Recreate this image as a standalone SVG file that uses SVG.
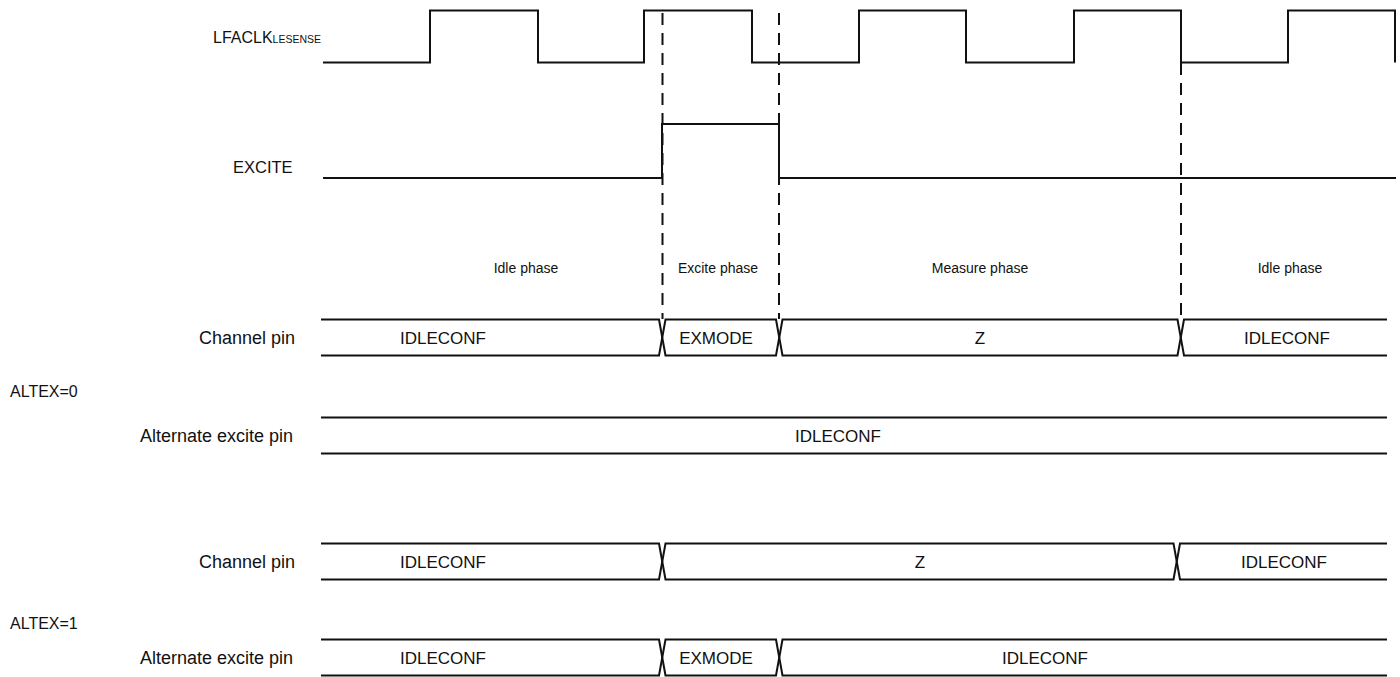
<svg xmlns="http://www.w3.org/2000/svg" width="1400" height="677" viewBox="0 0 1400 677">
<style>
text{font-family:"Liberation Sans",Arial,sans-serif;fill:#111}
.lbl{font-size:18px;text-anchor:end}
.bus{font-size:17px;text-anchor:middle}
.ph{font-size:14px;text-anchor:middle}
.w{fill:none;stroke:#111;stroke-width:2;stroke-linejoin:miter}
.d{fill:none;stroke:#111;stroke-width:2;stroke-dasharray:12 8}
</style>
<rect width="1400" height="677" fill="#fff"/>
<g id="clock">
<text x="213" y="43" font-size="16px">LFACLK<tspan font-size="10.5px">LESENSE</tspan></text>
<polyline class="w" points="323,62.5 430,62.5 430,10.5 538,10.5 538,62.5 644,62.5 644,10.5 752,10.5 752,62.5 859,62.5 859,10.5 966,10.5 966,62.5 1074,62.5 1074,10.5 1181,10.5 1181,62.5 1288,62.5 1288,10.5 1395,10.5 1395,62.5"/>
</g>
<g id="excite">
<text x="233" y="173" font-size="16.5px">EXCITE</text>
<polyline class="w" points="323,178 662,178 662,124 779,124 779,178 1396,178"/>
</g>
<g id="connectors">
<line class="d" x1="662.5" y1="13" x2="662.5" y2="319"/>
<line class="d" x1="779" y1="13" x2="779" y2="319"/>
<line class="d" x1="1181" y1="63" x2="1181" y2="319"/>
</g>
<g id="phases">
<text class="ph" x="526" y="273">Idle phase</text>
<text class="ph" x="718" y="273">Excite phase</text>
<text class="ph" x="980" y="273">Measure phase</text>
<text class="ph" x="1290" y="273">Idle phase</text>
</g>
<g id="altex0-channel">
<text class="lbl" x="295" y="344">Channel pin</text>
<polyline class="w" points="321,319.5 659,319.5 665.5,355.5 776,355.5 782.5,319.5 1177.5,319.5 1184,355.5 1387,355.5"/>
<polyline class="w" points="321,355.5 659,355.5 665.5,319.5 776,319.5 782.5,355.5 1177.5,355.5 1184,319.5 1387,319.5"/>
<text class="bus" x="443" y="343.5">IDLECONF</text>
<text class="bus" x="716" y="343.5">EXMODE</text>
<text class="bus" x="980" y="343.5">Z</text>
<text class="bus" x="1287" y="343.5">IDLECONF</text>
</g>
<g id="altex0-label">
<text x="10" y="397" font-size="16px">ALTEX=0</text>
</g>
<g id="altex0-alt">
<text class="lbl" x="293" y="442">Alternate excite pin</text>
<line class="w" x1="321" y1="417.5" x2="1387" y2="417.5"/>
<line class="w" x1="321" y1="453.5" x2="1387" y2="453.5"/>
<text class="bus" x="838" y="441.5">IDLECONF</text>
</g>
<g id="altex1-channel">
<text class="lbl" x="295" y="568">Channel pin</text>
<polyline class="w" points="321,543.5 659,543.5 665.5,579.5 1173.5,579.5 1180,543.5 1387,543.5"/>
<polyline class="w" points="321,579.5 659,579.5 665.5,543.5 1173.5,543.5 1180,579.5 1387,579.5"/>
<text class="bus" x="443" y="567.5">IDLECONF</text>
<text class="bus" x="920" y="567.5">Z</text>
<text class="bus" x="1284" y="567.5">IDLECONF</text>
</g>
<g id="altex1-label">
<text x="10" y="629" font-size="16px">ALTEX=1</text>
</g>
<g id="altex1-alt">
<text class="lbl" x="293" y="664">Alternate excite pin</text>
<polyline class="w" points="321,639.5 659,639.5 665.5,675.5 776,675.5 782.5,639.5 1387,639.5"/>
<polyline class="w" points="321,675.5 659,675.5 665.5,639.5 776,639.5 782.5,675.5 1387,675.5"/>
<text class="bus" x="443" y="663.5">IDLECONF</text>
<text class="bus" x="716" y="663.5">EXMODE</text>
<text class="bus" x="1045" y="663.5">IDLECONF</text>
</g>
</svg>
